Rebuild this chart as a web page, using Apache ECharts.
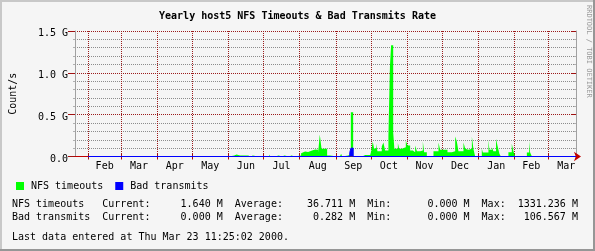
<!DOCTYPE html>
<html><head><meta charset="utf-8">
<script src="https://cdn.jsdelivr.net/npm/echarts@6/dist/echarts.min.js"></script>
<style>html,body{margin:0;padding:0;background:#f5f5f5}#c{width:595px;height:251px}</style>
</head><body><div id="c"></div>
<script>
// ---------- data ----------
const chartTitle = 'Yearly host5 NFS Timeouts & Bad Transmits Rate';
const yAxisTitle = 'Count/s';
const seriesNames = ['NFS timeouts', 'Bad transmits'];
// x values are days since 1999-01-01
const monthNames = ['Feb','Mar','Apr','May','Jun','Jul','Aug','Sep','Oct','Nov','Dec','Jan','Feb','Mar'];
const monthStartDays = [31,59,90,120,151,181,212,243,273,304,334,365,396,425];
const monthMidDays = [45,74.5,105,135.5,166,196.5,227.5,258,288.5,319,349.5,380.5,410.5,440.5];
const axisStartDay = 19.6, axisEndDay = 448.8;
// NFS timeouts: step start day / value in M per second
const nfsDays = [19.6,152,156,158,161,162,165,166,168,170,172,176,177,183,184,186,187,191,194,197,199,203,205,208,
 213.3,215,216.7,219.3,222.7,225.3,227.9,229.3,230.8,235.6,238.2,
 244.1,246.7,247.6,248.4,249.3,253.6,255.3,255.9,257.9,262,265.6,268.2,269.9,272.5,
 273.5,274.7,275.8,277.6,278.7,282.4,283.8,285.3,288.1,289.4,290.4,292.2,293.2,296.2,297.3,299.6,303,
 304.4,306.7,309,311,312.5,315.3,317.6,318.7,321,326.7,331,332.4,
 334.7,338.7,342.4,345.3,346.7,348.1,352.4,353.9,355.3,356.7,358.1,359.6,360.9,362.4,
 368.1,369,373.8,374.6,376.7,378,380.3,381.5,383.2,384.4,390.9,393.8,395.2,396.7,
 406.7,408.7,409.5,411,448.8];
const nfsValues = [0,12,24,12,0,12,24,12,0,12,0,12,0,12,0,24,0,12,0,12,0,12,0,12,
 40,60,55,72,84,80,48,264,92,12,0,
 6,0,32,0,12,24,30,528,6,0,18,0,18,36,
 72,180,96,152,64,120,168,72,240,1080,1331,288,92,160,92,112,192,
 132,72,52,132,64,72,180,52,6,64,168,80,
 80,52,64,240,180,64,168,92,80,64,92,240,92,0,
 92,48,200,80,112,64,212,132,32,0,52,152,64,0,
 48,184,48,0,0];
// Bad transmits
const badDays = [31, 255.0, 256.0, 257.9, 448.8];
const badValues = [0, 48, 100, 0, 0];
const statLines = [
 'NFS timeouts   Current:     1.640 M  Average:    36.711 M  Min:      0.000 M  Max:  1331.236 M',
 'Bad transmits  Current:     0.000 M  Average:     0.282 M  Min:      0.000 M  Max:   106.567 M'
];
const lastUpdate = 'Last data entered at Thu Mar 23 11:25:02 2000.';
const sideText = 'RRDTOOL / TOBI OETIKER';

// ---------- chart ----------
const MONO = "'DejaVu Sans Mono', monospace";
const toPairs = (ds, vs) => ds.map((d, i) => [d, vs[i] * 1e6]);
const chart = echarts.init(document.getElementById('c'), null, {renderer: 'canvas'});
const majorRed = '#9B1B1B';
const gridGray = '#8C8C8C';
const tickCommon = {show: true, customValues: monthStartDays, length: 3, lineStyle: {color: '#A01010'}};
chart.setOption({
  animation: false,
  backgroundColor: '#F5F5F5',
  textStyle: {fontFamily: MONO},
  title: {text: chartTitle, left: 'center', top: 6,
    textStyle: {fontFamily: MONO, fontSize: 10, fontWeight: 'bold', color: '#000'}},
  legend: {data: seriesNames, left: 11, top: 176, icon: 'rect', itemWidth: 8, itemHeight: 8, itemGap: 12,
    textStyle: {fontFamily: MONO, fontSize: 10, color: '#000', padding: [0,0,0,2]},
    itemStyle: {borderColor: '#000', borderWidth: 0}},
  grid: {left: 75, right: 19, top: 31, bottom: 94.5},
  xAxis: [{
    type: 'value', min: axisStartDay, max: axisEndDay, position: 'bottom',
    axisLine: {show: true, lineStyle: {color: '#C00000', width: 1}, symbol: ['none', 'arrow'], symbolSize: [7, 7], symbolOffset: [0, 5]},
    axisTick: tickCommon,
    axisLabel: {show: true, customValues: monthMidDays, margin: 5, fontFamily: MONO, fontSize: 10, color: '#000',
      formatter: v => monthNames[monthMidDays.indexOf(v)]},
    splitLine: {show: true, lineStyle: {color: majorRed, type: [1, 1], width: 1}}
  }, {
    type: 'value', min: axisStartDay, max: axisEndDay, position: 'top',
    axisLine: {show: false}, axisTick: tickCommon, axisLabel: {show: false}, splitLine: {show: false}
  }],
  yAxis: [{
    type: 'value', min: 0, max: 1.5e9, interval: 0.5e9, position: 'left',
    name: yAxisTitle, nameLocation: 'middle', nameGap: 57, nameRotate: 90,
    nameTextStyle: {fontFamily: MONO, fontSize: 10, color: '#000'},
    axisLine: {show: true, lineStyle: {color: '#A0A0A0'}},
    axisTick: {show: true, length: 7, lineStyle: {color: '#A01010'}},
    minorTick: {show: true, splitNumber: 5, length: 2, lineStyle: {color: '#B0B0B0'}},
    axisLabel: {margin: 7, fontFamily: MONO, fontSize: 10, color: '#000', verticalAlign: 'top', lineHeight: 5,
      formatter: v => v === 0 ? '0.0' : (v / 1e9).toFixed(1) + ' G'},
    splitLine: {show: true, lineStyle: {color: majorRed, type: [1, 1]}},
    minorSplitLine: {show: true, lineStyle: {color: gridGray, type: [1, 1]}}
  }, {
    type: 'value', min: 0, max: 1.5e9, interval: 0.5e9, position: 'right',
    axisLine: {show: true, lineStyle: {color: '#A0A0A0'}},
    axisTick: {show: true, inside: true, length: 5, lineStyle: {color: '#A01010'}},
    minorTick: {show: true, splitNumber: 5, length: 2, lineStyle: {color: '#B0B0B0'}},
    axisLabel: {show: false}, splitLine: {show: false}
  }],
  series: [{
    name: seriesNames[0], type: 'line', step: 'end', symbol: 'none', data: toPairs(nfsDays, nfsValues),
    itemStyle: {color: '#00FF00'}, lineStyle: {width: 0, opacity: 0},
    areaStyle: {color: '#00FF00', opacity: 1}, z: 3
  }, {
    name: seriesNames[1], type: 'line', step: 'end', symbol: 'none', data: toPairs(badDays, badValues),
    itemStyle: {color: '#0000FF'}, lineStyle: {width: 1, color: '#0000FF'}, clip: false,
    areaStyle: {color: '#0000FF', opacity: 1}, z: 4
  }],
  graphic: [
    {type: 'line', shape: {x1: 0, y1: 1, x2: 595, y2: 1}, style: {stroke: '#C8C8C8', lineWidth: 2}},
    {type: 'line', shape: {x1: 1, y1: 0, x2: 1, y2: 251}, style: {stroke: '#C8C8C8', lineWidth: 2}},
    {type: 'line', shape: {x1: 0, y1: 250, x2: 595, y2: 250}, style: {stroke: '#969696', lineWidth: 2}},
    {type: 'line', shape: {x1: 594, y1: 0, x2: 594, y2: 251}, style: {stroke: '#969696', lineWidth: 2}},
    {type: 'text', x: 592, y: 5, rotation: -Math.PI / 2,
      style: {text: sideText, fill: '#9A9A9A', font: "7px " + MONO, align: 'left', verticalAlign: 'top'}},
    {type: 'text', x: 12, y: 204, style: {text: statLines[0], fill: '#000', font: "10px " + MONO, verticalAlign: 'middle'}},
    {type: 'text', x: 12, y: 217, style: {text: statLines[1], fill: '#000', font: "10px " + MONO, verticalAlign: 'middle'}},
    {type: 'text', x: 12, y: 237, style: {text: lastUpdate, fill: '#000', font: "10px " + MONO, verticalAlign: 'middle'}}
  ]
});
</script></body></html>
